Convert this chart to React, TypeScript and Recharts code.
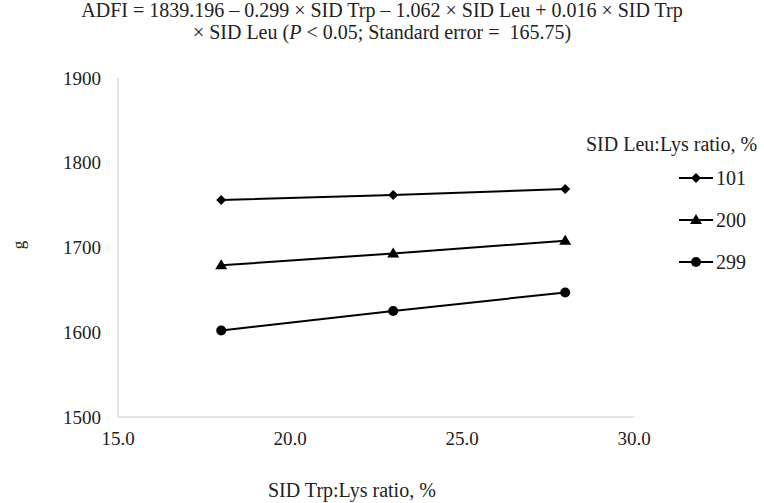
import React from "react";
import { Line, LineChart, XAxis, YAxis } from "recharts";

const trpRatios = [18, 23, 28];
const leu101 = [1756, 1762, 1769];
const leu200 = [1679, 1693, 1708];
const leu299 = [1602, 1625, 1647];
const xTicks = [15, 20, 25, 30];
const yTicks = [1500, 1600, 1700, 1800, 1900];

const series = [
  { key: "l101", name: "101", values: leu101, shape: "diamond" },
  { key: "l200", name: "200", values: leu200, shape: "triangle" },
  { key: "l299", name: "299", values: leu299, shape: "circle" },
];

const data = trpRatios.map((trp, i) => {
  const row: Record<string, number> = { trp };
  series.forEach((s) => {
    row[s.key] = s.values[i];
  });
  return row;
});

const FONT = '"Liberation Serif", "Times New Roman", serif';

if (typeof document !== "undefined") document.body.style.margin = "0";

function Marker({ cx, cy, shape }: { cx: number; cy: number; shape: string }) {
  if (shape === "diamond") {
    return <polygon points={`${cx},${cy - 5} ${cx + 5},${cy} ${cx},${cy + 5} ${cx - 5},${cy}`} fill="#000" />;
  }
  if (shape === "triangle") {
    return <polygon points={`${cx},${cy - 6} ${cx + 6},${cy + 4} ${cx - 6},${cy + 4}`} fill="#000" />;
  }
  return <circle cx={cx} cy={cy} r={5} fill="#000" />;
}

function LegendBox() {
  return (
    <div style={{ position: "absolute", left: 586, top: 133, fontFamily: FONT, fontSize: 20, lineHeight: "23px", color: "#222" }}>
      <div style={{ marginBottom: 1 }}>SID Leu:Lys ratio, %</div>
      {series.map((s) => (
        <div key={s.key} style={{ display: "flex", alignItems: "center", height: 42, marginLeft: 93 }}>
          <svg width={36} height={14}>
            <line x1={0} y1={7} x2={34} y2={7} stroke="#000" strokeWidth={2} />
            <Marker cx={17} cy={7} shape={s.shape} />
          </svg>
          <span style={{ marginLeft: 1 }}>{s.name}</span>
        </div>
      ))}
    </div>
  );
}

export default function App() {
  return (
    <div style={{ position: "relative", width: 764, height: 503, background: "#fff", fontFamily: FONT }}>
      <div style={{ position: "absolute", top: -1, left: 0, width: 764, textAlign: "center", fontSize: 20, lineHeight: "22px", color: "#222" }}>
        ADFI = 1839.196 – 0.299 × SID Trp – 1.062 × SID Leu + 0.016 × SID Trp
        <br />× SID Leu (<i>P</i> &lt; 0.05; Standard error =&nbsp; 165.75)
      </div>
      <div style={{ position: "absolute", left: 15, top: 235, fontSize: 17, transform: "rotate(-90deg)", color: "#222" }}>g</div>
      <div style={{ position: "absolute", left: 268, top: 479, fontSize: 20, color: "#222" }}>SID Trp:Lys ratio, %</div>
      <LineChart width={764} height={503} data={data} margin={{ top: 78, right: 130, bottom: 0, left: 0 }}>
        <XAxis
          dataKey="trp"
          type="number"
          domain={[15, 30]}
          ticks={xTicks}
          tickFormatter={(v: number) => v.toFixed(1)}
          axisLine={{ stroke: "#c8c8c8" }}
          tickLine={false}
          tickSize={0}
          tickMargin={15}
          tick={{ fill: "#222", fontSize: 19, fontFamily: FONT }}
          height={86}
        />
        <YAxis
          type="number"
          domain={[1500, 1900]}
          ticks={yTicks}
          axisLine={{ stroke: "#c8c8c8" }}
          tickLine={false}
          tickSize={0}
          tickMargin={17}
          tick={{ fill: "#222", fontSize: 19, fontFamily: FONT }}
          width={118}
        />
        {series.map((s) => (
          <Line
            key={s.key}
            dataKey={s.key}
            name={s.name}
            stroke="#000"
            strokeWidth={2}
            isAnimationActive={false}
            dot={(p: any) => <Marker key={`${s.key}-${p.index}`} cx={p.cx} cy={p.cy} shape={s.shape} />}
            activeDot={false}
          />
        ))}
      </LineChart>
      <LegendBox />
    </div>
  );
}
